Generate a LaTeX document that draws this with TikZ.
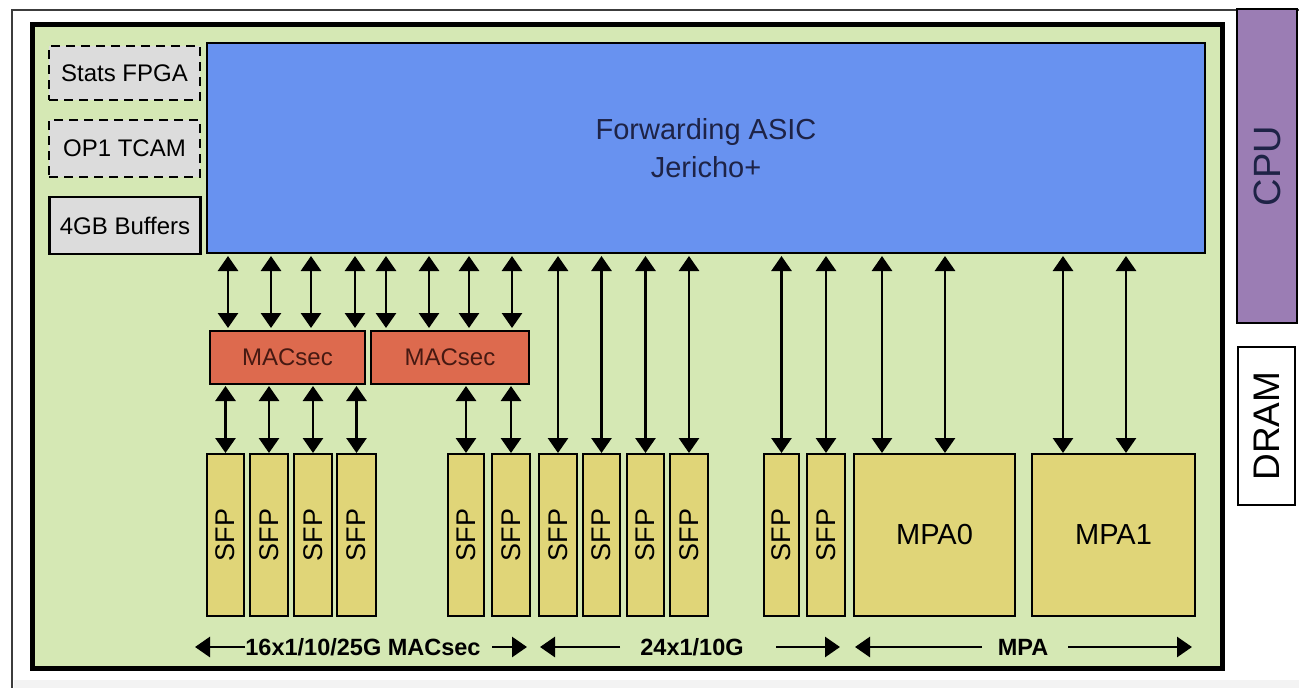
\documentclass[tikz,border=0pt]{standalone}
\usepackage{fontspec}
\usepackage{graphicx}
\setmainfont{Liberation Sans}
\usetikzlibrary{arrows.meta}
\definecolor{bggreen}{RGB}{213,232,180}
\definecolor{asicblue}{RGB}{104,146,240}
\definecolor{macred}{RGB}{221,106,78}
\definecolor{sfpy}{RGB}{224,213,120}
\definecolor{graybox}{RGB}{220,220,220}
\definecolor{cpupurple}{RGB}{155,125,180}
\definecolor{navytext}{RGB}{30,35,70}
\definecolor{mactext}{RGB}{70,25,18}
\definecolor{framegray}{RGB}{60,60,60}
\definecolor{lightgray}{RGB}{243,243,243}
\begin{document}
\begin{tikzpicture}[x=1pt,y=-1pt,
  box/.style={draw=black, line width=2.2pt, inner sep=0pt, outer sep=0pt, anchor=center, align=center},
  sfpbox/.style={box, fill=sfpy, minimum height=162pt, font=\fontsize{27}{30}\selectfont},
  grbox/.style={box, fill=graybox, minimum width=151pt, font=\fontsize{24}{28}\selectfont},
  macbox/.style={box, fill=macred, minimum height=53pt, text=mactext, font=\fontsize{24}{28}\selectfont},
  bi/.style={line width=2.8pt, {Triangle[width=20pt,length=15pt]}-{Triangle[width=20pt,length=15pt]}},
  one/.style={line width=2.8pt, -{Triangle[width=20pt,length=15pt]}},
  lab/.style={inner sep=0pt, font=\fontsize{23.5}{27}\selectfont\bfseries}
]
\useasboundingbox (0,0) rectangle (1299,688);
% outer frame
\fill[lightgray] (14,680) rectangle (1299,688);
\draw[framegray, line width=2pt] (12,688) -- (12,10) -- (1299,10);
% main board
\node[draw=black, line width=5pt, fill=bggreen, minimum width=1190pt, minimum height=644pt, inner sep=0pt] (board) at (627,346) {};
% CPU / DRAM
\node[box, line width=1.5pt, fill=cpupurple, minimum width=60pt, minimum height=314pt, text=navytext, font=\fontsize{38}{42}\selectfont] (cpu) at (1267,166) {\rotatebox{90}{CPU}};
\node[box, line width=1.5pt, fill=white, minimum width=57pt, minimum height=158pt, font=\fontsize{37}{42}\selectfont] (dram) at (1266.5,426) {\rotatebox{90}{DRAM}};
% ASIC
\node[box, fill=asicblue, minimum width=998pt, minimum height=210pt, text=navytext, font=\fontsize{29}{38}\selectfont] (asic) at (706,148) {Forwarding ASIC\\Jericho+};
% side boxes
\node[grbox, dashed, dash pattern=on 9pt off 6pt, line width=2.6pt, minimum height=54pt] (stats) at (124.5,73) {Stats FPGA};
\node[grbox, dashed, dash pattern=on 9pt off 6pt, line width=2.6pt, minimum height=57pt] (tcam) at (124.5,148.5) {OP1 TCAM};
\node[grbox, minimum height=57pt] (buf) at (125,225.5) {4GB Buffers};
% MACsec
\node[macbox, minimum width=155pt] (m1) at (287.5,357.5) {MACsec};
\node[macbox, minimum width=158pt] (m2) at (450,357.5) {MACsec};
% SFPs
\foreach \n/\a/\b in {1/207/244, 2/250/288, 3/294/332, 4/337/376, 5/448/484, 6/492/530, 7/539/577, 8/583/620, 9/627/664, 10/670/708, 11/764/799, 12/807/845}{
  \pgfmathsetmacro\w{\b-\a}
  \pgfmathsetmacro\c{(\a+\b)/2}
  \node[sfpbox, minimum width=\w pt] (s\n) at (\c,535) {\rotatebox{90}{SFP}};
}
% MPAs
\node[box, fill=sfpy, minimum width=161pt, minimum height=162pt, font=\fontsize{29}{32}\selectfont] (mpa0) at (934.5,535) {MPA0};
\node[box, fill=sfpy, minimum width=163pt, minimum height=162pt, font=\fontsize{29}{32}\selectfont] (mpa1) at (1113.5,535) {MPA1};
% ASIC <-> MACsec
\foreach \x in {228,271,311,355}
  \draw[bi, shorten <=3pt, shorten >=3pt] (\x,0 |- asic.south) -- (\x,0 |- m1.north);
\foreach \x in {386,429,469,512}
  \draw[bi, shorten <=3pt, shorten >=3pt] (\x,0 |- asic.south) -- (\x,0 |- m2.north);
% MACsec <-> SFP
\foreach \s in {1,2,3,4}
  \draw[bi, shorten <=2pt, shorten >=1pt] (m1.south -| s\s.north) -- (s\s.north);
\foreach \s in {5,6}
  \draw[bi, shorten <=2pt, shorten >=1pt] (m2.south -| s\s.north) -- (s\s.north);
% ASIC <-> SFP direct
\foreach \s in {7,8,9,10,11,12}
  \draw[bi, shorten <=3pt, shorten >=1pt] (asic.south -| s\s.north) -- (s\s.north);
% ASIC <-> MPA
\foreach \x in {882,945}
  \draw[bi, shorten <=3pt, shorten >=1pt] (\x,0 |- asic.south) -- (\x,0 |- mpa0.north);
\foreach \x in {1063,1126}
  \draw[bi, shorten <=3pt, shorten >=1pt] (\x,0 |- asic.south) -- (\x,0 |- mpa1.north);
% bottom labels
\node[lab] (l1) at (363,647) {16x1/10/25G MACsec};
\node[lab] (l2) at (692,647) {24x1/10G};
\node[lab] (l3) at (1023,647) {MPA};
\coordinate (a1) at (195,647);
\coordinate (a2) at (492,647);
\coordinate (a3) at (527,647);
\coordinate (b1) at (540,647);
\coordinate (b2) at (620,647);
\coordinate (b3) at (776,647);
\coordinate (b4) at (840,647);
\coordinate (c1) at (855,647);
\coordinate (c2) at (982,647);
\coordinate (c3) at (1068,647);
\coordinate (c4) at (1192,647);
\draw[one] (l1.west) -- (a1);
\draw[one] (a2) -- (a3);
\draw[one] (b2) -- (b1);
\draw[one] (b3) -- (b4);
\draw[one] (c2) -- (c1);
\draw[one] (c3) -- (c4);
\end{tikzpicture}
\end{document}
